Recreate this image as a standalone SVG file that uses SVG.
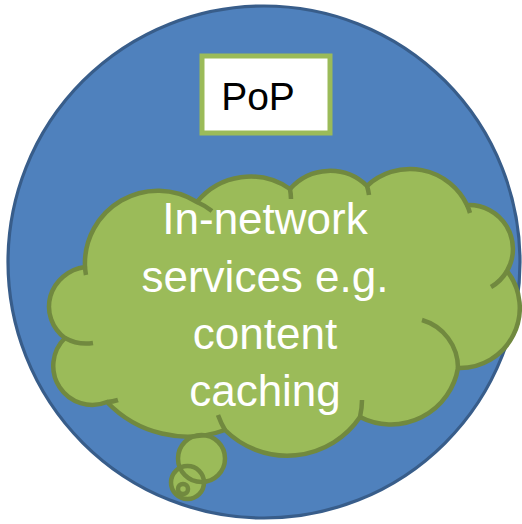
<svg xmlns="http://www.w3.org/2000/svg" width="522" height="524" viewBox="0 0 522 524">
<style>
.fillg{fill:#9bbb59;stroke:none}
.strk{fill:none;stroke:#71893f;stroke-width:4.5;stroke-linejoin:round}
.ctext{font-family:"Liberation Sans",Arial,sans-serif;font-size:44px;fill:#ffffff;text-anchor:middle}
.ptext{font-family:"Liberation Sans",Arial,sans-serif;font-size:39px;fill:#000000;text-anchor:middle}
</style>
<defs>
<path id="cloudOutline" d="M85,267 A73,73 0 0 1 197,202 A69,69 0 0 1 290,189 A53,53 0 0 1 367,186 A63,63 0 0 1 467,205 A44,44 0 0 1 507,271 A60,60 0 0 1 458,368 A68,68 0 0 1 360,417 A88,88 0 0 1 225,430 A111,111 0 0 1 107,402 A39,39 0 0 1 65,338 A42,40 0 0 1 85,267 Z"/>
</defs>
<g id="pop-circle">
<circle cx="264" cy="262" r="256" fill="#4f81bd" stroke="#385d8a" stroke-width="3.2"/>
</g>
<g id="pop-box">
<rect x="202" y="56" width="128" height="77" fill="#ffffff" stroke="#9bbb59" stroke-width="5"/>
<text class="ptext" x="258" y="110">PoP</text>
</g>
<g id="cloud">
<use href="#cloudOutline" class="fillg"/>
<circle class="fillg" cx="201.5" cy="458.5" r="23.5"/>
<circle class="fillg" cx="187.5" cy="482.5" r="16.5"/>
<circle class="fillg" cx="183" cy="489" r="5"/>
<use href="#cloudOutline" class="strk"/>
<path class="strk" d="M86,275 A73,73 0 0 1 85,267 M197,202 A73,73 0 0 1 212,211 M290,189 A69,69 0 0 1 291,199 M367,186 A53,53 0 0 1 369,195 M467,205 A63,63 0 0 1 470,213 M507,271 A44,44 0 0 1 491,287 M422,320 A50,50 0 0 1 458,368 M360,417 Q362,408 362,400 M225,430 A88,88 0 0 1 218,415 M118,400 A39,39 0 0 1 107,402 M65,338 A42,40 0 0 0 93,343"/>
<circle class="strk" cx="201.5" cy="458.5" r="23.5"/>
<circle class="strk" cx="187.5" cy="482.5" r="16.5"/>
<circle class="strk" cx="183" cy="489" r="5"/>
<text class="ctext" x="265" y="234">In-network</text>
<text class="ctext" x="265" y="291.5">services e.g.</text>
<text class="ctext" x="265" y="349">content</text>
<text class="ctext" x="265" y="406">caching</text>
</g>
<g id="connectors"/>
</svg>
